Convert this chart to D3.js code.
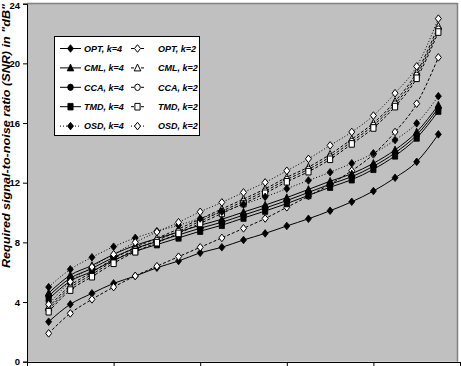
<!DOCTYPE html>
<html><head><meta charset="utf-8">
<script src="https://cdn.jsdelivr.net/npm/d3@7"></script>
<style>body{margin:0;background:#fff}svg{display:block}</style>
</head><body>
<script>
const xValues = [0.05,0.10,0.15,0.20,0.25,0.30,0.35,0.40,0.45,0.50,0.55,0.60,0.65,0.70,0.75,0.80,0.85,0.90,0.95];
const optK4 = [2.68,3.85,4.58,5.25,5.74,6.30,6.75,7.30,7.67,8.16,8.60,9.10,9.58,10.12,10.72,11.44,12.33,13.40,15.24];
const optK2 = [1.90,3.24,4.18,5.00,5.75,6.40,7.04,7.67,8.30,8.94,9.60,10.35,11.10,11.90,12.80,13.90,15.40,17.30,20.40];
const cmlK4 = [4.60,5.80,6.45,7.20,7.80,8.25,8.70,9.15,9.55,10.03,10.50,11.00,11.55,12.10,12.60,13.30,14.20,15.40,17.20];
const cmlK2 = [3.65,5.10,6.00,6.90,7.67,8.28,8.90,9.57,10.24,10.90,11.59,12.36,13.05,13.90,14.92,16.00,17.45,19.40,22.50];
const ccaK4 = [4.40,5.60,6.25,7.00,7.60,8.05,8.50,8.95,9.35,9.83,10.30,10.80,11.35,11.90,12.40,13.10,14.00,15.20,17.00];
const ccaK2 = [3.50,4.95,5.85,6.75,7.52,8.13,8.75,9.42,10.09,10.75,11.44,12.21,12.90,13.73,14.76,15.84,17.28,19.20,22.30];
const tmdK4 = [4.20,5.40,6.05,6.80,7.40,7.85,8.30,8.75,9.15,9.63,10.10,10.60,11.15,11.70,12.20,12.90,13.80,15.00,16.80];
const tmdK2 = [3.35,4.80,5.70,6.60,7.37,7.98,8.60,9.27,9.94,10.60,11.29,12.06,12.74,13.57,14.60,15.67,17.10,19.00,22.10];
const osdK4 = [5.00,6.19,7.00,7.71,8.30,8.75,9.15,9.60,10.05,10.55,11.05,11.60,12.15,12.70,13.30,13.97,14.86,15.98,17.80];
const osdK2 = [3.85,5.36,6.35,7.20,8.00,8.70,9.35,10.05,10.68,11.35,12.02,12.80,13.60,14.50,15.40,16.50,18.00,19.80,23.00];
const seriesNames = ["OPT, k=4","OPT, k=2","CML, k=4","CML, k=2","CCA, k=4","CCA, k=2","TMD, k=4","TMD, k=2","OSD, k=4","OSD, k=2"];
const yTicks = [0,4,8,12,16,20,24];
const xTicks = [0,0.2,0.4,0.6,0.8,1.0];
const yTitle = 'Required signal-to-noise ratio (SNR) in "dB"';

const series = [
  {name:seriesNames[0], v:optK4, mk:"diamond", fill:"#000", dash:null},
  {name:seriesNames[1], v:optK2, mk:"diamond", fill:"#fff", dash:"3,2"},
  {name:seriesNames[2], v:cmlK4, mk:"triangle", fill:"#000", dash:null},
  {name:seriesNames[3], v:cmlK2, mk:"triangle", fill:"#fff", dash:"3,2"},
  {name:seriesNames[4], v:ccaK4, mk:"circle", fill:"#000", dash:null},
  {name:seriesNames[5], v:ccaK2, mk:"circle", fill:"#fff", dash:"3,2"},
  {name:seriesNames[6], v:tmdK4, mk:"square", fill:"#000", dash:null},
  {name:seriesNames[7], v:tmdK2, mk:"square", fill:"#fff", dash:"3,2"},
  {name:seriesNames[8], v:osdK4, mk:"diamond", fill:"#000", dash:"1,2"},
  {name:seriesNames[9], v:osdK2, mk:"diamond", fill:"#fff", dash:"1,2"}
];

const W=461,H=366;
const svg=d3.select("body").append("svg").attr("width",W).attr("height",H);
const x=d3.scaleLinear().domain([0,1]).range([27,460]);
const y=d3.scaleLinear().domain([0,24]).range([361.7,3.7]);

svg.append("rect").attr("x",27).attr("y",3.7).attr("width",430).attr("height",358).attr("fill","#c0c0c0");
svg.append("path").attr("d",`M27,3.5H457.5V361.7`).attr("fill","none").attr("stroke","#808080").attr("stroke-width",1.5);

const ya=svg.append("g").attr("transform","translate(27,0)").call(d3.axisLeft(y).tickValues(yTicks).tickSize(4).tickPadding(3));
ya.select(".domain").attr("stroke","#000");
ya.selectAll("text").attr("font-family","'Liberation Sans Narrow','Arial Narrow',Arial,sans-serif").attr("font-size","9.5px").attr("font-weight","bold").attr("fill","#000");
ya.selectAll(".tick").filter(d=>d===24).select("text").attr("dy","0.55em");
const xa=svg.append("g").attr("transform","translate(0,362)").call(d3.axisBottom(x).tickValues(xTicks).tickSize(4).tickFormat(""));
xa.select(".domain").attr("stroke","#000");

svg.append("text").attr("transform","translate(10,268) rotate(-90)")
  .attr("font-family","'Liberation Sans',Arial,sans-serif").attr("font-size","10px")
  .attr("font-weight","bold").attr("font-style","italic").attr("textLength",264).attr("lengthAdjust","spacingAndGlyphs")
  .text(yTitle);

function marker(g,type,fill){
  const s=g.append("path").attr("fill",fill).attr("stroke","#000").attr("stroke-width",fill==="#fff"?1:0.8);
  if(type==="diamond") s.attr("d","M0,-3.8L3,0L0,3.8L-3,0Z");
  else if(type==="triangle") s.attr("d","M0,-3.8L3.3,3L-3.3,3Z");
  else if(type==="circle") s.attr("d","M-2.8,0A2.8,3.2 0 1,0 2.8,0A2.8,3.2 0 1,0 -2.8,0Z");
  else s.attr("d","M-2.6,-3.3H2.6V3.3H-2.6Z");
  return s;
}

const line=d3.line().x((d,i)=>x(xValues[i])).y(d=>y(d)).curve(d3.curveMonotoneX);
const plot=svg.append("g");
series.forEach(s=>{
  plot.append("path").attr("d",line(s.v)).attr("fill","none").attr("stroke","#000").attr("stroke-width",1)
    .attr("stroke-dasharray",s.dash);
  s.v.forEach((v,i)=>{
    const g=plot.append("g").attr("transform",`translate(${x(xValues[i])},${y(v)})`);
    marker(g,s.mk,s.fill);
  });
});

const lg=svg.append("g");
lg.append("rect").attr("x",54.5).attr("y",36.5).attr("width",145).attr("height",99).attr("fill","#fff").attr("stroke","#000");
series.forEach((s,k)=>{
  const col=k%2,row=Math.floor(k/2);
  const cy=48.5+row*19.4;
  const x0=col===0?60:131, x1=col===0?81:144, mx=col===0?70.5:137.5, tx=col===0?84:158;
  lg.append("line").attr("x1",x0).attr("x2",x1).attr("y1",cy).attr("y2",cy).attr("stroke","#000").attr("stroke-dasharray",s.dash);
  const g=lg.append("g").attr("transform",`translate(${mx},${cy})`);
  marker(g,s.mk,s.fill);
  lg.append("text").attr("x",tx).attr("y",cy+3.3).attr("font-family","'Liberation Sans',Arial,sans-serif")
    .attr("font-size","9px").attr("font-weight","bold").attr("font-style","italic").text(s.name);
});
</script>
</body></html>
